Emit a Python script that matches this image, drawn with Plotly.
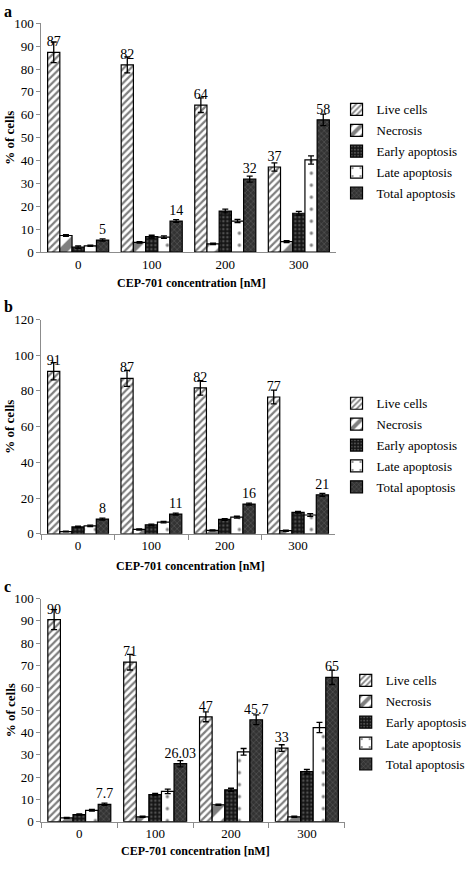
import plotly.graph_objects as go

# ---------------- data ----------------
concentrations = ["0", "100", "200", "300"]
series_names = ["Live cells", "Necrosis", "Early apoptosis", "Late apoptosis", "Total apoptosis"]

# panel a
a_live = [87.3, 81.8, 64.2, 37.2]
a_necrosis = [7.3, 4.3, 3.6, 4.6]
a_early = [2.2, 6.8, 18.0, 17.0]
a_late = [2.8, 6.6, 13.6, 40.3]
a_total = [5.3, 13.6, 31.9, 57.8]
a_live_err = [4.5, 3.5, 3.2, 1.8]
a_necrosis_err = [0.4, 0.3, 0.3, 0.4]
a_early_err = [0.5, 0.6, 0.8, 0.8]
a_late_err = [0.3, 0.5, 0.7, 1.8]
a_total_err = [0.5, 0.6, 1.3, 2.5]
a_live_labels = ["87", "82", "64", "37"]
a_total_labels = ["5", "14", "32", "58"]

# panel b
b_live = [91.0, 87.0, 81.7, 76.6]
b_necrosis = [1.2, 2.4, 1.9, 1.7]
b_early = [3.8, 5.0, 8.0, 12.0]
b_late = [4.4, 6.5, 9.3, 10.5]
b_total = [8.2, 11.0, 16.6, 21.8]
b_live_err = [4.8, 4.5, 4.0, 3.8]
b_necrosis_err = [0.2, 0.3, 0.3, 0.3]
b_early_err = [0.4, 0.4, 0.5, 0.5]
b_late_err = [0.4, 0.4, 0.5, 0.8]
b_total_err = [0.5, 0.5, 0.6, 0.8]
b_live_labels = ["91", "87", "82", "77"]
b_total_labels = ["8", "11", "16", "21"]

# panel c
c_live = [90.6, 71.5, 47.0, 33.0]
c_necrosis = [1.7, 2.2, 7.6, 2.2]
c_early = [3.2, 12.2, 14.3, 22.4]
c_late = [5.1, 13.6, 31.3, 42.2]
c_total = [7.8, 26.0, 45.7, 64.7]
c_live_err = [4.5, 3.5, 2.2, 1.5]
c_necrosis_err = [0.2, 0.3, 0.3, 0.3]
c_early_err = [0.3, 0.5, 0.7, 1.0]
c_late_err = [0.4, 1.0, 1.5, 2.3]
c_total_err = [0.5, 1.4, 2.2, 3.2]
c_live_labels = ["90", "71", "47", "33"]
c_total_labels = ["7.7", "26.03", "45.7", "65"]

# ---------------- styling ----------------
W, H = 472, 869
FONT = "Liberation Serif"
AXIS_GRAY = "#8c8c8c"

patterns = [
    dict(shape="/", fgcolor="black", bgcolor="white", size=5, solidity=0.45),
    dict(shape="/", fgcolor="black", bgcolor="white", size=16, solidity=0.5),
    dict(shape=".", fgcolor="#8a8a8a", bgcolor="#151515", size=4, solidity=0.3),
    dict(shape=".", fgcolor="black", bgcolor="white", size=12, solidity=0.06),
    dict(shape="x", fgcolor="#a0a0a0", bgcolor="#333333", size=4, solidity=0.2),
]


def px_x(p):
    return p / W


def px_y(p):
    return 1 - p / H


panels = [
    dict(
        key="", letter="a",
        vals=[a_live, a_necrosis, a_early, a_late, a_total],
        errs=[a_live_err, a_necrosis_err, a_early_err, a_late_err, a_total_err],
        labels={0: a_live_labels, 4: a_total_labels},
        x0=45, x1=365, ybot=249.5, ytop=16.5, ymax=100, dtick=10, ticks=False,
        letter_y=5, xlab_y=281, legend_top=89, legend_x=366,
    ),
    dict(
        key="2", letter="b",
        vals=[b_live, b_necrosis, b_early, b_late, b_total],
        errs=[b_live_err, b_necrosis_err, b_early_err, b_late_err, b_total_err],
        labels={0: b_live_labels, 4: b_total_labels},
        x0=45, x1=364, ybot=536, ytop=318, ymax=120, dtick=20, ticks=True,
        letter_y=305, xlab_y=569, legend_top=388, legend_x=366,
    ),
    dict(
        key="3", letter="c",
        vals=[c_live, c_necrosis, c_early, c_late, c_total],
        errs=[c_live_err, c_necrosis_err, c_early_err, c_late_err, c_total_err],
        labels={0: c_live_labels, 4: c_total_labels},
        x0=45, x1=375, ybot=829, ytop=602, ymax=100, dtick=10, ticks=True,
        letter_y=590, xlab_y=859, legend_top=670, legend_x=376,
    ),
]

fig = go.Figure()
layout = dict(annotations=[])

for p in panels:
    k = p["key"]
    xa = "x" + k
    ya = "y" + k
    legend_name = "legend" + k
    for i, name in enumerate(series_names):
        text = p["labels"].get(i)
        fig.add_trace(go.Bar(
            x=concentrations, y=p["vals"][i], name=name,
            xaxis=xa, yaxis=ya, legend=legend_name,
            legendgroup=f"{k}_{i}",
            marker=dict(color=patterns[i]["bgcolor"], pattern=patterns[i],
                        line=dict(color="black", width=1.2)),
            error_y=dict(type="data", array=p["errs"][i], color="black",
                         thickness=1.3, width=3),
            text=text, textposition="outside" if text else "none",
            constraintext="none", cliponaxis=False,
            textfont=dict(family=FONT, size=14, color="black"),
            outsidetextfont=dict(family=FONT, size=14, color="black"),
            hoverinfo="skip",
        ))
    ybot_p = px_y(p["ybot"])
    ytop_p = px_y(p["ytop"])
    layout["xaxis" + k] = dict(
        domain=[px_x(p["x0"]), px_x(p["x1"])], anchor=ya,
        type="category", showline=True, linecolor=AXIS_GRAY, linewidth=1,
        ticks="outside" if p["ticks"] else "", ticklen=5, tickcolor=AXIS_GRAY,
        tickson="boundaries", showgrid=False,
        tickfont=dict(family=FONT, size=13, color="black"),
    )
    layout["yaxis" + k] = dict(
        domain=[ybot_p, ytop_p], anchor=xa, range=[0, p["ymax"]],
        dtick=p["dtick"], showline=True, linecolor=AXIS_GRAY, linewidth=1,
        ticks="outside", ticklen=4, tickcolor=AXIS_GRAY, showgrid=False,
        zeroline=False, tickfont=dict(family=FONT, size=13, color="black"),
    )
    layout[legend_name] = dict(
        x=px_x(p["legend_x"]), xanchor="left",
        y=px_y(p["legend_top"]), yanchor="top",
        font=dict(family=FONT, size=13, color="black"),
        bgcolor="rgba(0,0,0,0)", itemwidth=30, tracegroupgap=1,
    )
    layout["annotations"] += [
        dict(text=p["letter"], x=px_x(2), y=px_y(p["letter_y"]), xref="paper", yref="paper",
             xanchor="left", yanchor="middle", showarrow=False,
             font=dict(family=FONT, size=16, color="black", weight="bold")),
        dict(text="% of cells", x=px_x(11), y=(ybot_p + ytop_p) / 2, xref="paper", yref="paper",
             xanchor="center", yanchor="middle", textangle=-90, showarrow=False,
             font=dict(family=FONT, size=13, color="black", weight="bold")),
        dict(text="CEP-701 concentration [nM]", x=(px_x(p["x0"]) + px_x(p["x1"])) / 2 + px_x(3),
             y=px_y(p["xlab_y"]), xref="paper", yref="paper",
             xanchor="center", yanchor="middle", showarrow=False,
             font=dict(family=FONT, size=12, color="black", weight="bold")),
    ]

fig.update_layout(
    width=W, height=H, margin=dict(l=0, r=0, t=0, b=0),
    paper_bgcolor="white", plot_bgcolor="white",
    barmode="group", bargap=0.17, bargroupgap=0,
    showlegend=True, font=dict(family=FONT, color="black"),
    **layout,
)

fig.write_html("out.html", config={"displayModeBar": False},
               post_script="document.body.style.margin='0';")
